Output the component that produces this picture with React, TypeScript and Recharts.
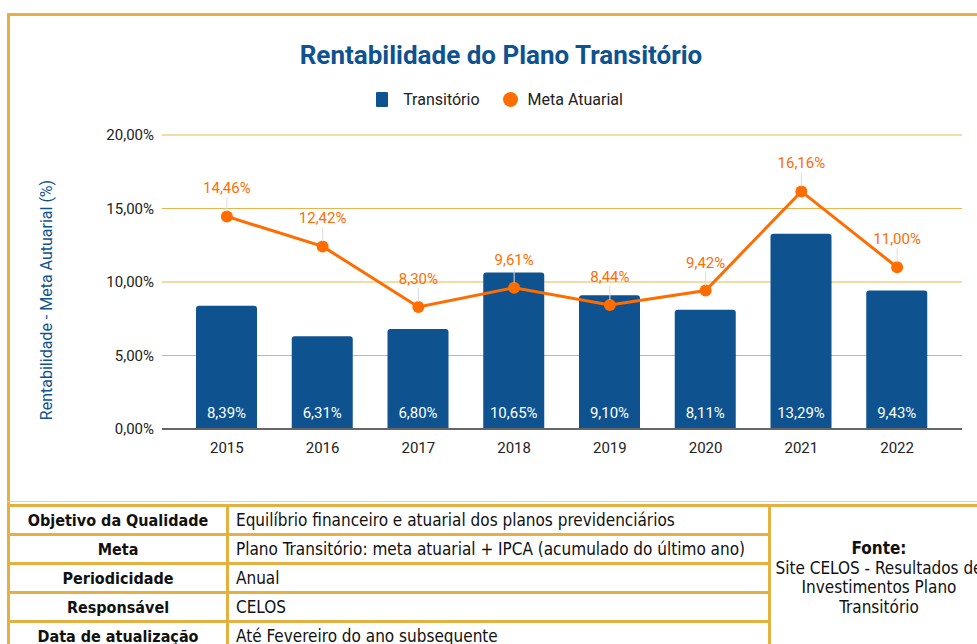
import {
  Bar,
  CartesianGrid,
  ComposedChart,
  LabelList,
  Legend,
  Line,
  XAxis,
  YAxis,
} from "recharts";

const years = ["2015", "2016", "2017", "2018", "2019", "2020", "2021", "2022"];
const transitorio = [8.39, 6.31, 6.8, 10.65, 9.1, 8.11, 13.29, 9.43];
const metaAtuarial = [14.46, 12.42, 8.3, 9.61, 8.44, 9.42, 16.16, 11.0];
const yTicks = [0, 5, 10, 15, 20];

const tableLabels = ["Objetivo da Qualidade", "Meta", "Periodicidade", "Responsável", "Data de atualização"];
const tableValues = [
  "Equilíbrio financeiro e atuarial dos planos previdenciários",
  "Plano Transitório: meta atuarial + IPCA (acumulado do último ano)",
  "Anual",
  "CELOS",
  "Até Fevereiro do ano subsequente",
];
const fonteLines = ["Site CELOS - Resultados de", "Investimentos Plano", "Transitório"];

const data = years.map((name, i) => ({
  name,
  transitorio: transitorio[i],
  meta: metaAtuarial[i],
}));

const BLUE = "#0e5290";
const ORANGE = "#ff6d01";
const GOLD = "#e5b03f";
const FONT = "Roboto, sans-serif";
const TABLE_FONT = "'DejaVu Sans Condensed', 'DejaVu Sans', sans-serif";

const pct = (v: number) => v.toFixed(2).replace(".", ",") + "%";

const BarValue = (props: any) => {
  const { x, y, width, height, value } = props;
  return (
    <text
      x={x + width / 2}
      y={y + height - 11}
      textAnchor="middle"
      fill="#fff"
      fontSize={15}
      fontFamily={FONT}
    >
      {pct(value)}
    </text>
  );
};

const LineValue = (props: any) => {
  const { x, y, value } = props;
  return (
    <g>
      <line x1={x} x2={x} y1={y - 19} y2={y - 5} stroke="#dddddd" strokeWidth={1} />
      <text x={x} y={y - 23} textAnchor="middle" fill={ORANGE} fontSize={15} fontFamily={FONT}>
        {pct(value)}
      </text>
    </g>
  );
};

const LegendBox = () => (
  <div
    style={{
      height: 47,
      display: "flex",
      justifyContent: "center",
      alignItems: "flex-start",
      fontFamily: FONT,
      fontSize: 16,
      color: "#222",
      paddingLeft: 37,
    }}
  >
    <span style={{ display: "flex", alignItems: "center", height: 22 }}>
      <span style={{ width: 12, height: 15, background: BLUE, borderRadius: 1, marginRight: 15 }} />
      Transitório
    </span>
    <span style={{ display: "flex", alignItems: "center", height: 22, marginLeft: 23 }}>
      <span style={{ width: 15, height: 15, background: ORANGE, borderRadius: "50%", marginRight: 10 }} />
      Meta Atuarial
    </span>
  </div>
);

const YLabel = () => (
  <text
    x={46}
    y={300}
    transform="rotate(-90 46 300)"
    textAnchor="middle"
    dominantBaseline="central"
    fill={BLUE}
    fontSize={16}
    fontFamily={FONT}
  >
    Rentabilidade - Meta Autuarial (%)
  </text>
);

const rowTop = (i: number) => 507 + i * 29;

export default function App() {
  return (
    <div
      style={{
        position: "absolute",
        left: 0,
        top: 0,
        width: 977,
        height: 644,
        overflow: "hidden",
        background: "#fff",
      }}
    >
      {/* gold frame */}
      <div style={{ position: "absolute", left: 7, top: 13, width: 980, height: 3, background: GOLD }} />
      <div style={{ position: "absolute", left: 7, top: 13, width: 3, height: 640, background: GOLD }} />

      <div
        style={{
          position: "absolute",
          left: 0,
          top: 39,
          width: 1002,
          textAlign: "center",
          fontFamily: FONT,
          fontWeight: 700,
          fontSize: 26,
          color: BLUE,
          lineHeight: "32px",
        }}
      >
        Rentabilidade do Plano Transitório
      </div>

      <div style={{ position: "absolute", left: 0, top: 0 }}>
        <ComposedChart
          width={977}
          height={480}
          data={data}
          margin={{ top: 88, right: 15, left: 0, bottom: 21 }}
        >
          <CartesianGrid vertical={false} stroke="#e8b54e" strokeWidth={1} />
          <Legend verticalAlign="top" align="center" content={<LegendBox />} />
          <XAxis
            dataKey="name"
            padding={{ left: 17, right: 17 }}
            tickLine={false}
            tickSize={0}
            tickMargin={13}
            axisLine={{ stroke: "#666", strokeWidth: 2 }}
            tick={{ fill: "#222", fontSize: 15, fontFamily: FONT }}
            height={30}
          />
          <YAxis
            width={162}
            domain={[0, 20]}
            ticks={yTicks}
            tickFormatter={pct}
            tickLine={false}
            axisLine={false}
            tickSize={0}
            tickMargin={8}
            tick={{ fill: "#222", fontSize: 15, fontFamily: FONT }}
            label={<YLabel />}
          />
          <Bar
            dataKey="transitorio"
            name="Transitório"
            fill={BLUE}
            barSize={61}
            radius={[3, 3, 0, 0]}
            isAnimationActive={false}
          >
            <LabelList dataKey="transitorio" content={<BarValue />} />
          </Bar>
          <Line
            dataKey="meta"
            name="Meta Atuarial"
            stroke={ORANGE}
            strokeWidth={3}
            dot={{ r: 6, fill: ORANGE, stroke: "none" }}
            activeDot={false}
            isAnimationActive={false}
          >
            <LabelList dataKey="meta" content={<LineValue />} />
          </Line>
        </ComposedChart>
      </div>

      {/* table */}
      <div style={{ position: "absolute", left: 7, top: 501, width: 980, height: 1, background: "#edd08a" }} />
      <div style={{ position: "absolute", left: 7, top: 504, width: 980, height: 3, background: GOLD }} />
      {tableLabels.map((label, i) => (
        <div key={label}>
          <div
            style={{
              position: "absolute",
              left: 10,
              top: rowTop(i),
              width: 216,
              height: 26,
              display: "flex",
              alignItems: "center",
              justifyContent: "center",
              fontFamily: TABLE_FONT,
              fontWeight: 700,
              fontSize: 16,
              color: "#111",
              whiteSpace: "nowrap",
            }}
          >
            {label}
          </div>
          <div
            style={{
              position: "absolute",
              left: 236,
              top: rowTop(i),
              width: 530,
              height: 26,
              display: "flex",
              alignItems: "center",
              fontFamily: TABLE_FONT,
              fontSize: 17,
              color: "#111",
              whiteSpace: "nowrap",
            }}
          >
            {tableValues[i]}
          </div>
          <div
            style={{ position: "absolute", left: 7, top: rowTop(i) + 26, width: 764, height: 3, background: GOLD }}
          />
        </div>
      ))}
      <div style={{ position: "absolute", left: 226, top: 504, width: 3, height: 150, background: GOLD }} />
      <div style={{ position: "absolute", left: 768, top: 504, width: 3, height: 150, background: GOLD }} />
      <div
        style={{
          position: "absolute",
          left: 771,
          top: 507,
          width: 216,
          height: 142,
          display: "flex",
          flexDirection: "column",
          alignItems: "center",
          justifyContent: "center",
          fontFamily: TABLE_FONT,
          fontSize: 17,
          lineHeight: "19.5px",
          color: "#111",
          whiteSpace: "nowrap",
        }}
      >
        <div style={{ fontWeight: 700 }}>Fonte:</div>
        {fonteLines.map((l) => (
          <div key={l}>{l}</div>
        ))}
      </div>
    </div>
  );
}
